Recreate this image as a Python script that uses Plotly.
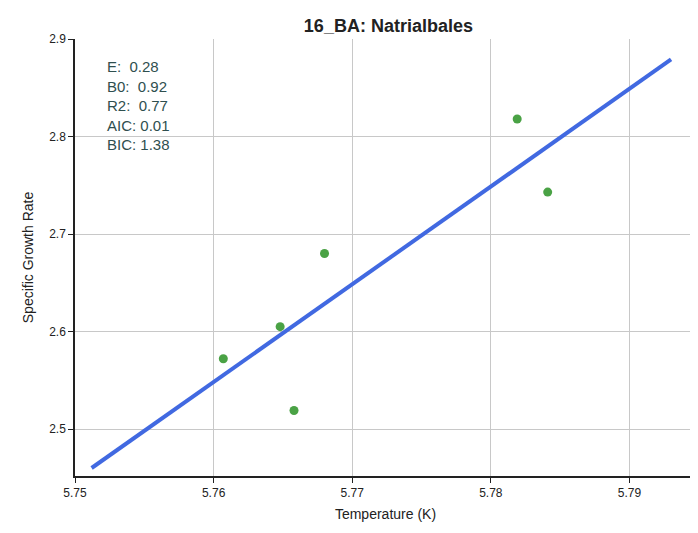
import plotly.graph_objects as go

temps = [5.7607, 5.7648, 5.7658, 5.7680, 5.7819, 5.7841]
rates = [2.572, 2.605, 2.519, 2.680, 2.818, 2.743]
fit_x = [5.7512, 5.7930]
fit_y = [2.460, 2.879]
stats = ["E:  0.28", "B0:  0.92", "R2:  0.77", "AIC: 0.01", "BIC: 1.38"]

fig = go.Figure()
fig.add_trace(go.Scatter(x=fit_x, y=fit_y, mode="lines", line=dict(color="#4169e1", width=4), showlegend=False))
fig.add_trace(go.Scatter(x=temps, y=rates, mode="markers", marker=dict(color="#4aa245", size=9), showlegend=False))
fig.add_annotation(x=0.048, y=0.96, xref="paper", yref="paper", xanchor="left", yanchor="top",
                   text="<br>".join(stats), showarrow=False, align="left",
                   font=dict(family="Liberation Sans", size=15, color="#2f4f4f"))
axis = dict(showline=True, linecolor="#222", linewidth=1.5, ticks="outside", tickcolor="#222",
            ticklen=5, showgrid=True, gridcolor="#c8c8c8", zeroline=False, mirror=False, automargin=False,
            tickfont=dict(family="Liberation Sans", size=12, color="#222"))
fig.update_xaxes(range=[5.75, 5.7948], tickvals=[5.75, 5.76, 5.77, 5.78, 5.79],
                 ticktext=["5.75", "5.76", "5.77", "5.78", "5.79"],
                 title=dict(text="Temperature (K)", standoff=10, font=dict(family="Liberation Sans", size=14, color="#222")), **axis)
fig.update_yaxes(range=[2.4518, 2.9], tickvals=[2.5, 2.6, 2.7, 2.8, 2.9],
                 ticktext=["2.5", "2.6", "2.7", "2.8", "2.9"],
                 title=dict(text="Specific Growth Rate", standoff=12, font=dict(family="Liberation Sans", size=14, color="#222")), **axis)
fig.update_layout(width=698, height=533, margin=dict(l=67, r=10, t=31, b=65, autoexpand=False),
                  plot_bgcolor="white", paper_bgcolor="white",
                  title=dict(text="<b>16_BA: Natrialbales</b>", x=0.545, xanchor="center", y=0.967, yanchor="middle",
                             automargin=False,
                             font=dict(family="Liberation Sans", size=18, color="#222")))
fig.write_html("out.html")
